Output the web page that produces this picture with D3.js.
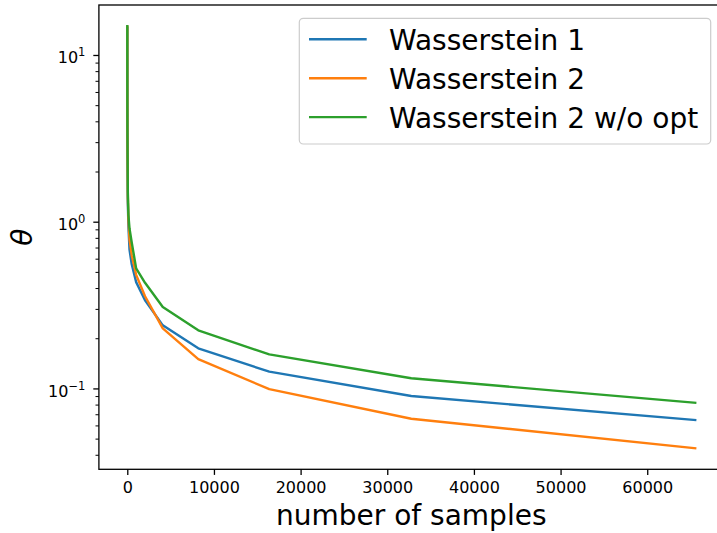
<!DOCTYPE html>
<html>
<head>
<meta charset="utf-8">
<script src="https://cdn.jsdelivr.net/npm/d3@7"></script>
<style>
  html, body { margin: 0; padding: 0; background: #ffffff; }
  svg { display: block; }
  text { font-family: "DejaVu Sans", sans-serif; fill: #000; }
</style>
</head>
<body>
<svg id="chart" width="717" height="533"></svg>
<script>
// ---- data ----
const samples = [1, 2, 4, 8, 16, 32, 64, 128, 256, 512, 1024, 2048, 4096, 8192, 16384, 32768, 65536];
const wasserstein1 = [14.6, 10.2, 7.1, 4.9, 3.4, 2.4, 1.3, 0.95, 0.68, 0.555, 0.434, 0.338, 0.239, 0.174, 0.126, 0.090, 0.0646];
const wasserstein2 = [14.8, 10.5, 7.3, 5.0, 3.5, 2.5, 1.4, 1.05, 0.78, 0.63, 0.48, 0.357, 0.229, 0.150, 0.099, 0.0658, 0.0438];
const wasserstein2NoOpt = [14.9, 10.8, 7.5, 5.2, 3.6, 2.6, 1.5, 1.1, 0.91, 0.75, 0.525, 0.43, 0.308, 0.223, 0.160, 0.115, 0.082];
const seriesNames = ["Wasserstein 1", "Wasserstein 2", "Wasserstein 2 w/o opt"];
const seriesColors = ["#1f77b4", "#ff7f0e", "#2ca02c"];
const xTickValues = [0, 10000, 20000, 30000, 40000, 50000, 60000];
const yTickExponents = [-1, 0, 1];
const xLabel = "number of samples";
const yLabel = "θ";

// ---- layout ----
const svg = d3.select("#chart");
const plot = { left: 98.9, top: 5, right: 723.6, bottom: 469.3 };

const series = [wasserstein1, wasserstein2, wasserstein2NoOpt].map((vals, i) => ({
  name: seriesNames[i], color: seriesColors[i],
  points: samples.map((s, j) => ({ x: s, y: vals[j] }))
}));

const xMin = d3.min(samples), xMax = d3.max(samples);
const xPad = (xMax - xMin) * 0.05;
const x = d3.scaleLinear().domain([xMin - xPad, xMax + xPad]).range([plot.left, plot.right]);

const allY = [].concat(wasserstein1, wasserstein2, wasserstein2NoOpt);
const lMin = Math.log10(d3.min(allY)), lMax = Math.log10(d3.max(allY));
const lPad = (lMax - lMin) * 0.05;
const y = d3.scaleLog().domain([Math.pow(10, lMin - lPad), Math.pow(10, lMax + lPad)]).range([plot.bottom, plot.top]);

// ---- lines ----
const line = d3.line().x(d => x(d.x)).y(d => y(d.y));
svg.append("g").selectAll("path").data(series).join("path")
  .attr("d", d => line(d.points))
  .attr("fill", "none")
  .attr("stroke", d => d.color)
  .attr("stroke-width", 2.4)
  .attr("stroke-linejoin", "round")
  .attr("stroke-linecap", "square");

// ---- frame ----
svg.append("rect")
  .attr("x", plot.left).attr("y", plot.top)
  .attr("width", plot.right - plot.left).attr("height", plot.bottom - plot.top)
  .attr("fill", "none").attr("stroke", "#000").attr("stroke-width", 1.3);

// ---- x axis ----
const xAxis = d3.axisBottom(x).tickValues(xTickValues).tickFormat(d3.format("d")).tickSize(5.6).tickPadding(7);
const gx = svg.append("g").attr("transform", `translate(0,${plot.bottom})`).call(xAxis);
gx.select(".domain").remove();
gx.selectAll(".tick line").attr("stroke", "#000").attr("stroke-width", 1.3);
gx.selectAll(".tick text").attr("font-size", 16).attr("font-family", "DejaVu Sans").attr("fill", "#000");

// ---- y axis (log) ----
const [d0, d1] = y.domain();
const minorVals = [];
for (let e = Math.floor(Math.log10(d0)); e <= Math.ceil(Math.log10(d1)); e++) {
  for (let m = 2; m <= 9; m++) {
    const v = m * Math.pow(10, e);
    if (v >= d0 && v <= d1) minorVals.push(v);
  }
}
const yMinor = d3.axisLeft(y).tickValues(minorVals).tickFormat("").tickSize(3.4);
const gym = svg.append("g").attr("transform", `translate(${plot.left},0)`).call(yMinor);
gym.select(".domain").remove();
gym.selectAll(".tick line").attr("stroke", "#000").attr("stroke-width", 1);

const yMajor = d3.axisLeft(y).tickValues(yTickExponents.map(e => Math.pow(10, e))).tickFormat("").tickSize(5.6);
const gy = svg.append("g").attr("transform", `translate(${plot.left},0)`).call(yMajor);
gy.select(".domain").remove();
gy.selectAll(".tick line").attr("stroke", "#000").attr("stroke-width", 1.3);

const yLab = svg.append("g").selectAll("text").data(yTickExponents).join("text")
  .attr("x", plot.left - 13.5)
  .attr("y", e => y(Math.pow(10, e)) + 8.5)
  .attr("text-anchor", "end")
  .attr("font-size", 16);
yLab.append("tspan").text("10");
yLab.append("tspan").attr("font-size", 11.5).attr("dy", -7).text(e => e < 0 ? "\u2212" + Math.abs(e) : String(e));

// ---- axis labels ----
svg.append("text")
  .attr("x", (plot.left + plot.right) / 2).attr("y", 525)
  .attr("text-anchor", "middle").attr("font-size", 28)
  .text(xLabel);
svg.append("text")
  .attr("transform", `translate(31.5,${(plot.top + plot.bottom) / 2}) rotate(-90)`)
  .attr("text-anchor", "middle").attr("font-size", 28).attr("font-style", "italic")
  .text(yLabel);

// ---- legend ----
const lg = svg.append("g");
lg.append("rect")
  .attr("x", 299.3).attr("y", 18.3).attr("width", 411.4).attr("height", 125.7)
  .attr("rx", 4).attr("fill", "#fff").attr("fill-opacity", 0.8)
  .attr("stroke", "#cccccc").attr("stroke-width", 1.2);
const rows = lg.selectAll("g.row").data(series).join("g").attr("class", "row")
  .attr("transform", (d, i) => `translate(0,${39.3 + i * 38.9})`);
rows.append("line").attr("x1", 309).attr("x2", 366.7).attr("y1", 0).attr("y2", 0)
  .attr("stroke", d => d.color).attr("stroke-width", 2.4);
rows.append("text").attr("x", 389).attr("y", 10.5).attr("font-size", 28).text(d => d.name);
</script>
</body>
</html>
